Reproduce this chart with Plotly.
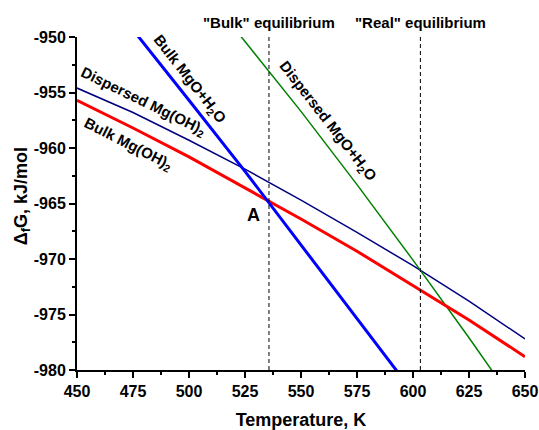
import plotly.graph_objects as go

# Temperature grid, K
T = [450, 475, 500, 525, 550, 575, 600, 625, 650]

# Gibbs energy of formation, kJ/mol
bulk_mgoh2 = [-955.7, -958.2, -960.8, -963.6, -966.4, -969.3, -972.4, -975.5, -978.8]
disp_mgoh2 = [-954.6, -956.8, -959.3, -961.9, -964.7, -967.6, -970.6, -973.8, -977.2]
bulk_mgo_h2o = [-943.0, -949.3, -955.7, -962.1, -968.7, -975.3, -982.0, -988.7, -995.6]
disp_mgo_h2o = [-932.5, -938.3, -944.2, -950.4, -956.7, -963.3, -970.1, -977.1, -984.3]

# Equilibrium temperatures, K
T_bulk_eq = 535.7
T_real_eq = 603.3

# Axis ticks
x_ticks = [450, 475, 500, 525, 550, 575, 600, 625, 650]
y_ticks = [-980, -975, -970, -965, -960, -955, -950]

FONT = "Arial, Liberation Sans, sans-serif"

fig = go.Figure()

fig.add_trace(go.Scatter(x=T, y=disp_mgoh2, mode="lines",
                         line=dict(color="#000080", width=1.5)))
fig.add_trace(go.Scatter(x=T, y=disp_mgo_h2o, mode="lines",
                         line=dict(color="#008000", width=1.5)))
fig.add_trace(go.Scatter(x=T, y=bulk_mgoh2, mode="lines",
                         line=dict(color="#FF0000", width=3)))
fig.add_trace(go.Scatter(x=T, y=bulk_mgo_h2o, mode="lines",
                         line=dict(color="#0000FF", width=3)))

for t_eq in (T_bulk_eq, T_real_eq):
    fig.add_trace(go.Scatter(x=[t_eq, t_eq], y=[-980, -950], mode="lines",
                             line=dict(color="black", width=1, dash="4px,3px")))

lbl = dict(family=FONT, size=15, color="black")
annotations = [
    dict(x=T_bulk_eq, y=1.045, xref="x", yref="paper", text="<b>\"Bulk\" equilibrium</b>"),
    dict(x=T_real_eq, y=1.045, xref="x", yref="paper", text="<b>\"Real\" equilibrium</b>"),
    dict(x=500.4, y=-953.8, xref="x", yref="y", text="<b>Bulk MgO+H<sub>2</sub>O</b>", textangle=52),
    dict(x=479.5, y=-955.8, xref="x", yref="y", text="<b>Dispersed Mg(OH)<sub>2</sub></b>", textangle=26),
    dict(x=473.2, y=-959.65, xref="x", yref="y", text="<b>Bulk Mg(OH)<sub>2</sub></b>", textangle=27),
    dict(x=562.0, y=-957.6, xref="x", yref="y", text="<b>Dispersed MgO+H<sub>2</sub>O</b>", textangle=52),
]
for a in annotations:
    a.update(showarrow=False, font=lbl)
annotations.append(dict(x=529.0, y=-966.0, xref="x", yref="y", text="<b>A</b>",
                        showarrow=False, font=dict(family=FONT, size=18, color="black")))
annotations.append(dict(x=-0.122, y=0.523, xref="paper", yref="paper",
                        text="<b>Δ<sub>f</sub>G, kJ/mol</b>", textangle=-90, showarrow=False,
                        font=dict(family=FONT, size=18, color="black")))
for a in annotations:
    a.update(xanchor="center", yanchor="middle")

axis_common = dict(
    showline=True, linecolor="black", linewidth=2, mirror=False,
    ticks="outside", ticklen=6, tickwidth=1.5, tickcolor="black",
    showgrid=False, zeroline=False, automargin=False,
    tickfont=dict(family=FONT, size=16, color="black"),
)

fig.update_layout(
    width=539, height=430,
    margin=dict(l=77, r=14, t=37, b=60),
    paper_bgcolor="white", plot_bgcolor="white",
    showlegend=False,
    annotations=annotations,
    xaxis=dict(range=[450, 650], tickmode="array", tickvals=x_ticks,
               ticktext=[f"<b>{v}</b>" for v in x_ticks],
               minor=dict(dtick=12.5, tick0=450, ticks="outside", ticklen=3, tickwidth=1.5,
                          tickcolor="black"),
               title=dict(text="<b>Temperature, K</b>", font=dict(family=FONT, size=18, color="black"),
                          standoff=14),
               **axis_common),
    yaxis=dict(range=[-980, -950], tickmode="array", tickvals=y_ticks,
               ticktext=[f"<b>{v}</b>" for v in y_ticks],
               minor=dict(dtick=2.5, tick0=-980, ticks="outside", ticklen=3, tickwidth=1.5,
                          tickcolor="black"),
               **axis_common),
)

fig.write_html("out.html")
